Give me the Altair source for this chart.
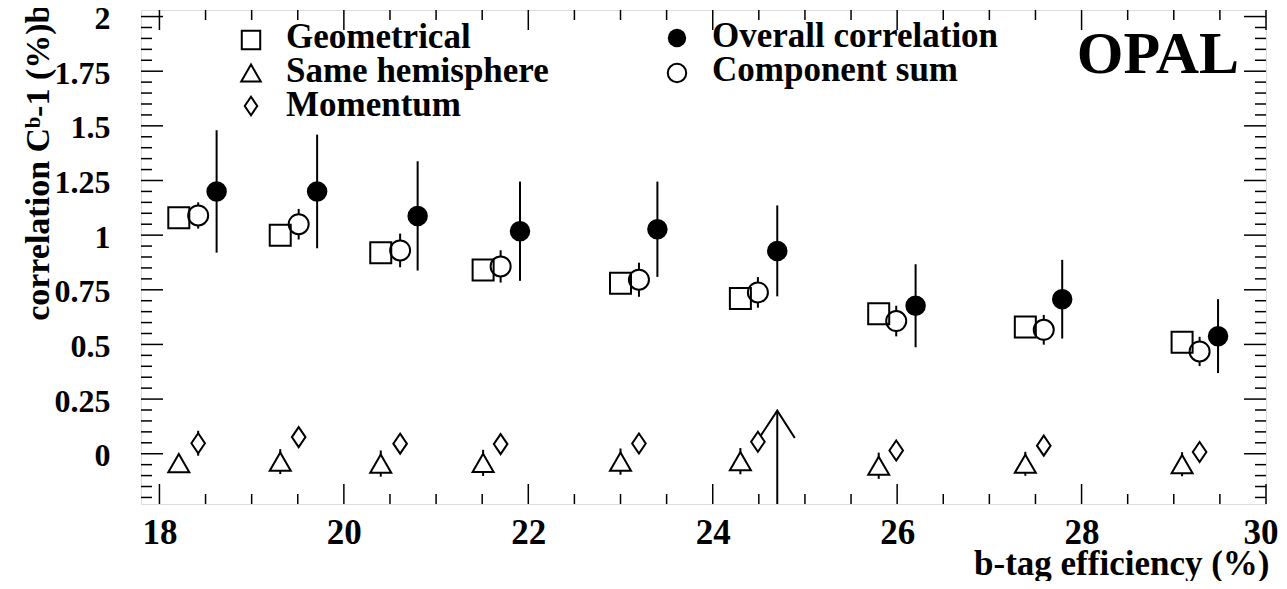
import altair as alt
import pandas as pd

# ---------------- data ----------------
eff_geo = [18.21, 19.31, 20.40, 21.51, 23.00, 24.30, 25.80, 27.39, 29.09]
geometrical = [1.08, 1.00, 0.92, 0.84, 0.78, 0.71, 0.64, 0.58, 0.51]

eff_sum = [18.42, 19.51, 20.61, 21.70, 23.20, 24.49, 25.99, 27.59, 29.28]
component_sum = [1.09, 1.05, 0.93, 0.857, 0.796, 0.738, 0.607, 0.567, 0.468]
component_sum_err = [0.06, 0.07, 0.077, 0.074, 0.078, 0.07, 0.07, 0.068, 0.067]

eff_all = [18.62, 19.71, 20.80, 21.91, 23.40, 24.70, 26.20, 27.79, 29.48]
overall = [1.20, 1.20, 1.088, 1.018, 1.027, 0.928, 0.677, 0.707, 0.538]
overall_err = [0.28, 0.26, 0.25, 0.227, 0.218, 0.208, 0.19, 0.18, 0.169]

eff_same = [18.21, 19.31, 20.40, 21.51, 23.00, 24.30, 25.80, 27.39, 29.09]
same_hemisphere = [-0.043, -0.036, -0.045, -0.042, -0.036, -0.034, -0.055, -0.046, -0.048]
same_hemisphere_err = [0.04, 0.057, 0.06, 0.06, 0.06, 0.06, 0.06, 0.055, 0.055]

eff_mom = [18.42, 19.51, 20.61, 21.70, 23.20, 24.49, 25.99, 27.59, 29.28]
momentum = [0.048, 0.076, 0.046, 0.044, 0.047, 0.055, 0.015, 0.037, 0.008]
momentum_err = [0.057, 0.04, 0.04, 0.04, 0.04, 0.04, 0.04, 0.04, 0.04]

# arrow marking the chosen working point
arrow_x = [24.70]
arrow_tip = [0.197]
arrow_base = [-0.23]
arrow_head_x = [24.52, 24.70, 24.89]
arrow_head_y = [0.082, 0.197, 0.072]

x_labels = [18, 20, 22, 24, 26, 28, 30]
y_labels = [0, 0.25, 0.5, 0.75, 1, 1.25, 1.5, 1.75, 2]
x_minor = [v / 2 for v in range(36, 61) if v % 4 != 0]
y_minor = [v / 100 for v in range(-20, 201, 5) if v % 25 != 0]

legend_left = ["Geometrical", "Same hemisphere", "Momentum"]
legend_right = ["Overall correlation", "Component sum"]

# ---------------- layout ----------------
W, H = 1125, 494
FONT = "Liberation Serif"

xs = alt.Scale(domain=[17.8, 30], nice=False, zero=False)
ys = alt.Scale(domain=[-0.23, 2.03], nice=False, zero=False)

x_axis = alt.Axis(
    values=x_labels, labelExpr="format(datum.value, 'd')", ticks=False, domain=False, grid=False,
    labelFont=FONT, labelFontSize=35, labelFontWeight="bold", labelColor="black",
    labelPadding=11, labelFlush=True, labelFlushOffset=12,
    title="b-tag efficiency (%)", titleFont=FONT, titleFontSize=35,
    titleFontWeight="bold", titleColor="black",
    titleAlign="right", titleBaseline="alphabetic", titleX=W + 3, titleY=70,
)
y_axis = alt.Axis(
    values=y_labels, labelExpr="format(datum.value, '~g')", ticks=False, domain=False, grid=False,
    labelFont=FONT, labelFontSize=32, labelFontWeight="bold", labelColor="black",
    labelPadding=31, labelFlush=False, labelOffset=2,
    title="correlation C\u1d47-1 (%)b", titleFont=FONT, titleFontSize=34,
    titleFontWeight="bold", titleColor="black", titleAngle=270,
    titleAlign="right", titleBaseline="alphabetic", titleX=-93, titleY=-6,
)


def X(field):
    return alt.X(field, type="quantitative", scale=xs, axis=x_axis)


def Y(field):
    return alt.Y(field, type="quantitative", scale=ys, axis=y_axis)


def frame(xv, yv, **cols):
    d = {"x": xv, "y": yv}
    d.update(cols)
    return pd.DataFrame(d)


geo_df = frame(eff_geo, geometrical)
sum_df = frame(eff_sum, component_sum, e=component_sum_err)
all_df = frame(eff_all, overall, e=overall_err)
same_df = frame(eff_same, same_hemisphere, e=same_hemisphere_err)
mom_df = frame(eff_mom, momentum, e=momentum_err)

# ---------- ticks (inside, on all four sides) ----------
xmaj = pd.DataFrame({"v": x_labels})
xmin = pd.DataFrame({"v": x_minor})
ymaj = pd.DataFrame({"v": y_labels})
ymin = pd.DataFrame({"v": y_minor})
TW = 1.5
ticks = [
    alt.Chart(xmaj).mark_rule(color="black", strokeWidth=TW).encode(x=X("v"), y=alt.value(H), y2=alt.value(H - 20)),
    alt.Chart(xmin).mark_rule(color="black", strokeWidth=TW).encode(x=X("v"), y=alt.value(H), y2=alt.value(H - 10)),
    alt.Chart(xmaj).mark_rule(color="black", strokeWidth=TW).encode(x=X("v"), y=alt.value(0), y2=alt.value(20)),
    alt.Chart(xmin).mark_rule(color="black", strokeWidth=TW).encode(x=X("v"), y=alt.value(0), y2=alt.value(10)),
    alt.Chart(ymaj).mark_rule(color="black", strokeWidth=TW).encode(y=Y("v"), x=alt.value(0), x2=alt.value(22)),
    alt.Chart(ymin).mark_rule(color="black", strokeWidth=TW).encode(y=Y("v"), x=alt.value(0), x2=alt.value(11)),
    alt.Chart(ymaj).mark_rule(color="black", strokeWidth=TW).encode(y=Y("v"), x=alt.value(W), x2=alt.value(W - 22)),
    alt.Chart(ymin).mark_rule(color="black", strokeWidth=TW).encode(y=Y("v"), x=alt.value(W), x2=alt.value(W - 11)),
]


def errbars(df, width=2):
    return alt.Chart(df).transform_calculate(
        lo="datum.y - datum.e", hi="datum.y + datum.e"
    ).mark_rule(color="black", strokeWidth=width).encode(x=X("x"), y=Y("lo"), y2=alt.Y2("hi:Q"))


DIAMOND = "M0,-1L0.68,0L0,1L-0.68,0Z"

layers = [
    errbars(all_df, 2),
    errbars(sum_df, 2),
    errbars(same_df, 2),
    errbars(mom_df, 2),
    # arrow
    alt.Chart(pd.DataFrame({"x": arrow_x, "t": arrow_tip, "b": arrow_base})).mark_rule(
        color="black", strokeWidth=2).encode(x=X("x"), y=Y("b"), y2=alt.Y2("t:Q")),
    alt.Chart(pd.DataFrame({"x": arrow_head_x, "y": arrow_head_y, "o": [0, 1, 2]})).mark_line(
        color="black", strokeWidth=2).encode(x=X("x"), y=Y("y"), order="o:Q"),
    # markers
    alt.Chart(all_df).mark_point(shape="circle", size=420, filled=True, color="black", opacity=1).encode(x=X("x"), y=Y("y")),
    alt.Chart(sum_df).mark_point(shape="circle", size=400, fill="white", stroke="black", strokeWidth=2, opacity=1, fillOpacity=1).encode(x=X("x"), y=Y("y")),
    alt.Chart(geo_df).mark_point(shape="square", size=441, stroke="black", strokeWidth=2, opacity=1).encode(x=X("x"), y=Y("y")),
    alt.Chart(same_df).mark_point(shape="triangle-up", size=441, fill="white", stroke="black", strokeWidth=2, opacity=1, fillOpacity=1).encode(x=X("x"), y=Y("y")),
    alt.Chart(mom_df).mark_point(shape=DIAMOND, size=400, fill="white", stroke="black", strokeWidth=2, opacity=1, fillOpacity=1).encode(x=X("x"), y=Y("y")),
]

# ---------- legend ----------
one = pd.DataFrame({"k": [0]})
LX1, LT1 = 110, 145
LX2, LT2 = 536, 571
rows_sym = [30, 63, 96]
rows_txt = [38, 72, 106]
legend = [
    alt.Chart(one).mark_point(shape="square", size=340, stroke="black", strokeWidth=2, opacity=1).encode(x=alt.value(LX1), y=alt.value(rows_sym[0])),
    alt.Chart(one).mark_point(shape="triangle-up", size=380, stroke="black", strokeWidth=2, opacity=1).encode(x=alt.value(LX1), y=alt.value(rows_sym[1])),
    alt.Chart(one).mark_point(shape=DIAMOND, size=340, stroke="black", strokeWidth=2, opacity=1).encode(x=alt.value(LX1), y=alt.value(rows_sym[2])),
    alt.Chart(one).mark_point(shape="circle", size=340, filled=True, color="black", opacity=1).encode(x=alt.value(LX2), y=alt.value(rows_sym[0] - 2)),
    alt.Chart(one).mark_point(shape="circle", size=340, stroke="black", strokeWidth=2, opacity=1).encode(x=alt.value(LX2), y=alt.value(rows_sym[1])),
]
for i, lab in enumerate(legend_left):
    legend.append(alt.Chart(pd.DataFrame({"t": [lab]})).mark_text(
        font=FONT, fontSize=35, fontWeight="bold", align="left", baseline="alphabetic", color="black"
    ).encode(text="t:N", x=alt.value(LT1), y=alt.value(rows_txt[i])))
for i, lab in enumerate(legend_right):
    legend.append(alt.Chart(pd.DataFrame({"t": [lab]})).mark_text(
        font=FONT, fontSize=35, fontWeight="bold", align="left", baseline="alphabetic", color="black"
    ).encode(text="t:N", x=alt.value(LT2), y=alt.value(rows_txt[i] - 1)))

opal = alt.Chart(pd.DataFrame({"t": ["OPAL"]})).mark_text(
    font=FONT, fontSize=60, fontWeight="bold", align="right", baseline="alphabetic", color="black"
).encode(text="t:N", x=alt.value(1098), y=alt.value(63))

chart = alt.layer(*ticks, *layers, *legend, opal).properties(
    width=W, height=H,
    autosize=alt.AutoSizeParams(type="none"),
    padding={"left": 133, "top": 2, "right": 13, "bottom": 77},
).configure_view(stroke="black", strokeWidth=2.5).configure(background="white")

chart.save("out.html", embed_options={"renderer": "svg", "actions": False})
